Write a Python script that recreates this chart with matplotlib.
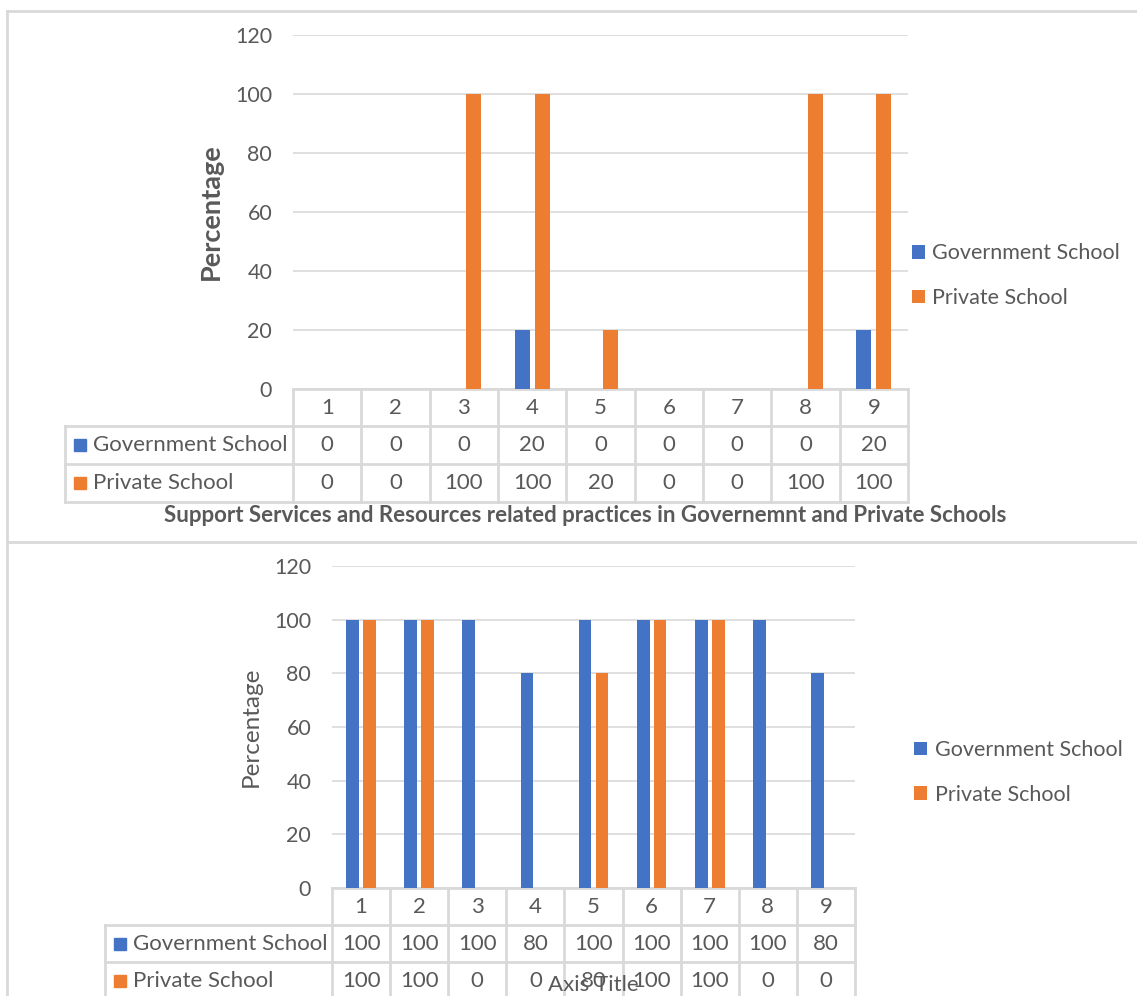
import matplotlib
matplotlib.use("Agg")
import matplotlib.pyplot as plt
import numpy as np

# data
categories = ["1", "2", "3", "4", "5", "6", "7", "8", "9"]
series_names = ["Government School", "Private School"]

gov_top = [0, 0, 0, 20, 0, 0, 0, 0, 20]
priv_top = [0, 0, 100, 100, 20, 0, 0, 100, 100]

gov_bottom = [100, 100, 100, 80, 100, 100, 100, 100, 80]
priv_bottom = [100, 100, 0, 0, 80, 100, 100, 0, 0]

y_ticks = [0, 20, 40, 60, 80, 100, 120]

title_text = "Support Services and Resources related practices in Governemnt and Private Schools"

BLUE = "#4472C4"
ORANGE = "#ED7D31"
GRID = "#D9D9D9"
TEXT = "#595959"

W, H = 1137, 996
plt.rcParams["font.family"] = ["Lato", "DejaVu Sans"]

fig = plt.figure(figsize=(W / 100, H / 100), dpi=100)


def add_ax(left, top, right, bottom):
    return fig.add_axes([left / W, 1 - bottom / H, (right - left) / W, (bottom - top) / H])


def px_line(x0, y0, x1, y1):
    fig.add_artist(plt.Line2D([x0 / W, x1 / W], [1 - y0 / H, 1 - y1 / H],
                              transform=fig.transFigure, color=GRID, lw=2))


# outer frame of the two stacked charts
px_line(7, 11, W, 11)
px_line(7, 11, 7, H)
px_line(7, 542, W, 542)


def draw_chart(ax, gov, priv, box, table_left, rows, fs):
    left, top, right, bottom = box
    n = len(categories)
    x = np.arange(n) + 0.5
    ax.bar(x - 0.146, gov, width=0.22, color=BLUE, label=series_names[0], zorder=3)
    ax.bar(x + 0.146, priv, width=0.22, color=ORANGE, label=series_names[1], zorder=3)
    ax.set_xlim(0, n)
    ax.set_ylim(0, 120)
    ax.set_yticks(y_ticks)
    ax.set_xticks([])
    ax.yaxis.grid(True, color=GRID, lw=1.2, zorder=0)
    for s in ax.spines.values():
        s.set_visible(False)
    ax.tick_params(axis="y", length=0, pad=15, labelsize=fs - 0.5, labelcolor=TEXT)

    # data table under the plot area
    h_px = bottom - top
    cat_px = (right - left) / n
    tr = ax.get_xaxis_transform()
    xl = (table_left - left) / cat_px
    ys = [-r / h_px for r in rows]
    kw = dict(transform=tr, color=GRID, lw=2, clip_on=False, zorder=1)
    ax.plot([0, n], [0, 0], **kw)
    for yy in ys[1:]:
        ax.plot([xl, n], [yy, yy], **kw)
    for i in range(n + 1):
        ax.plot([i, i], [0, ys[-1]], **kw)
    ax.plot([xl, xl], [ys[1], ys[-1]], **kw)

    mids = [(ys[k] + ys[k + 1]) / 2 for k in range(3)]
    tkw = dict(transform=tr, ha="center", va="center", fontsize=fs, color=TEXT, clip_on=False)
    for i, c in enumerate(categories):
        ax.text(x[i], mids[0], c, **tkw)
        ax.text(x[i], mids[1], str(gov[i]), **tkw)
        ax.text(x[i], mids[2], str(priv[i]), **tkw)
    sq = 15 / cat_px + xl
    for k, (name, col) in enumerate(zip(series_names, [BLUE, ORANGE])):
        ax.plot([sq], [mids[k + 1]], marker="s", ms=9, color=col, transform=tr, clip_on=False)
        ax.text(sq + 13 / cat_px, mids[k + 1], name, transform=tr, ha="left", va="center",
                fontsize=fs, color=TEXT, clip_on=False)


fs = 16

ax1 = add_ax(293, 35, 908, 389)
draw_chart(ax1, gov_top, priv_top, (293, 35, 908, 389), 65, [0, 37, 75, 113], fs)
ax1.set_ylabel("Percentage", fontsize=19.5, fontweight="bold", color=TEXT)
ax1.yaxis.set_label_coords(-0.114, 0.5)
ax1.legend(loc="center left", bbox_to_anchor=(1.006, 0.32), frameon=False, fontsize=fs - 0.5,
           handlelength=0.6, handleheight=0.6, handletextpad=0.35, labelspacing=1.15,
           borderpad=0, borderaxespad=0, labelcolor=TEXT)

fig.text(585 / W, 1 - 515 / H, title_text, ha="center", va="center", fontsize=16,
         fontweight="bold", color=TEXT)

ax2 = add_ax(332, 566, 855, 888)
draw_chart(ax2, gov_bottom, priv_bottom, (332, 566, 855, 888), 105, [0, 37, 74, 112], fs)
ax2.set_ylabel("Percentage", fontsize=17.5, color=TEXT)
ax2.yaxis.set_label_coords(-0.134, 0.5)
ax2.set_xlabel("Axis Title", fontsize=fs, color=TEXT)
ax2.xaxis.set_label_coords(0.5, -0.27)
ax2.xaxis.set_zorder(5)
ax2.legend(loc="center left", bbox_to_anchor=(1.113, 0.359), frameon=False, fontsize=fs - 0.5,
           handlelength=0.6, handleheight=0.6, handletextpad=0.35, labelspacing=1.15,
           borderpad=0, borderaxespad=0, labelcolor=TEXT)

fig.savefig("out.png", dpi=100)
